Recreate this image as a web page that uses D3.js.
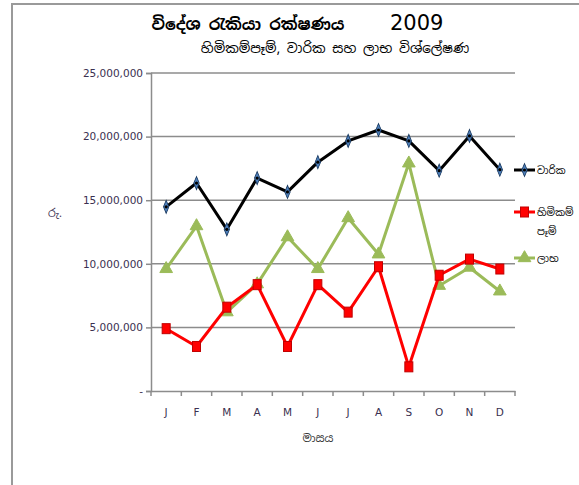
<!DOCTYPE html>
<html>
<head>
<meta charset="utf-8">
<script src="https://cdn.jsdelivr.net/npm/d3@7"></script>
<style>
  body { margin: 0; background: #fff; }
  text { font-family: "Noto Sans Sinhala", "Iskoola Pota", "Noto Sans", "DejaVu Sans", sans-serif; }
</style>
</head>
<body>
<svg id="chart" width="579" height="485"></svg>
<script>
// මාස
var months = ["J", "F", "M", "A", "M", "J", "J", "A", "S", "O", "N", "D"];
var premiums = [14480000, 16350000, 12710000, 16740000, 15650000, 17990000, 19660000, 20520000, 19660000, 17320000, 20050000, 17400000];
var claims = [4900000, 3500000, 6590000, 8360000, 3500000, 8360000, 6200000, 9770000, 1900000, 9100000, 10370000, 9590000];
var profits = [9600000, 12970000, 6200000, 8400000, 12100000, 9600000, 13600000, 10750000, 17900000, 8280000, 9710000, 7840000];
var yTicks = [0, 5000000, 10000000, 15000000, 20000000, 25000000];
var seriesNames = ["වාරික", "හිමිකම් පෑම්", "ලාභ"];

var svg = d3.select("#chart");
var margin = { top: 73, left: 151, right: 64, bottom: 94 };
var width = 579 - margin.left - margin.right,
  height = 485 - margin.top - margin.bottom;

// පසුබිම් රාමුව
svg.append("rect")
  .attr("x", 12).attr("y", 4)
  .attr("width", 580).attr("height", 500)
  .attr("fill", "#fff")
  .attr("stroke", "#9a9a9a")
  .attr("stroke-width", 2);

svg.append("text")
  .attr("x", 248).attr("y", 30)
  .attr("text-anchor", "middle")
  .style("font-size", "16px")
  .style("font-weight", "bold")
  .attr("fill", "#000")
  .text("විදේශ රැකියා රක්ෂණය");

svg.append("text")
  .attr("x", 390).attr("y", 30)
  .style("font-size", "21px")
  .style("font-family", "'DejaVu Sans', sans-serif")
  .attr("fill", "#000")
  .text("2009");

svg.append("text")
  .attr("x", 335).attr("y", 53)
  .attr("text-anchor", "middle")
  .style("font-size", "13.5px")
  .attr("fill", "#000")
  .text("හිමිකම්පෑම්, වාරික සහ ලාභ විශ්ලේෂණ");

var x = d3.scaleBand().domain(d3.range(months.length)).range([0, width]);
var y = d3.scaleLinear().domain([0, 25000000]).range([height, 0]);

var g = svg.append("g")
  .attr("transform", "translate(" + margin.left + "," + margin.top + ")");

// ග්‍රිඩ් රේඛා
g.selectAll(".grid")
  .data(yTicks.slice(1))
  .enter()
  .append("line")
  .attr("x1", 0).attr("x2", width)
  .attr("y1", function (d) { return y(d); })
  .attr("y2", function (d) { return y(d); })
  .attr("stroke", "#8c8c8c")
  .attr("stroke-width", 1.5);

var yAxis = g.append("g")
  .call(d3.axisLeft(y).tickValues(yTicks).tickSize(5).tickPadding(3)
    .tickFormat(function (d) { return d === 0 ? "-" : d3.format(",")(d); }));
yAxis.select(".domain").attr("stroke", "#8c8c8c").attr("stroke-width", 1.5);
yAxis.selectAll(".tick line").attr("stroke", "#8c8c8c").attr("stroke-width", 1.5);
yAxis.selectAll(".tick text")
  .attr("fill", "#3a3050")
  .style("font-family", "'DejaVu Sans', sans-serif")
  .style("font-size", "10.5px");

var xAxis = g.append("g")
  .attr("transform", "translate(0," + height + ")")
  .call(d3.axisBottom(x).tickSize(0).tickPadding(18)
    .tickFormat(function (i) { return months[i]; }));
xAxis.select(".domain").attr("stroke", "#8c8c8c").attr("stroke-width", 1.5);
xAxis.selectAll(".tick text")
  .attr("fill", "#3a3050")
  .style("font-family", "'DejaVu Sans', sans-serif")
  .style("font-size", "10.5px");
// කාණ්ඩ සීමා සලකුණු
xAxis.selectAll(".sep")
  .data(d3.range(months.length + 1))
  .enter()
  .append("line")
  .attr("x1", function (i) { return i * x.bandwidth(); })
  .attr("x2", function (i) { return i * x.bandwidth(); })
  .attr("y1", 0).attr("y2", 5)
  .attr("stroke", "#8c8c8c")
  .attr("stroke-width", 1.5);

svg.append("text")
  .attr("x", 55).attr("y", 217)
  .attr("text-anchor", "middle")
  .style("font-size", "11px")
  .attr("fill", "#3a3050")
  .text("රු.");

svg.append("text")
  .attr("x", 318).attr("y", 442)
  .attr("text-anchor", "middle")
  .style("font-size", "11px")
  .attr("fill", "#333")
  .text("මාසය");

var line = d3.line()
  .x(function (d, i) { return x(i) + x.bandwidth() / 2; })
  .y(function (d) { return y(d); });

var series = [
  { values: premiums, color: "#000", marker: d3.symbolDiamond, mfill: "#4f81bd", mstroke: "#17375e" },
  { values: claims, color: "#ff0000", marker: "square", mfill: "#ff0000", mstroke: "#c00000" },
  { values: profits, color: "#9bbb59", marker: d3.symbolTriangle, mfill: "#9bbb59", mstroke: "#9bbb59" }
];

function drawMarker(sel, s, cx, cy) {
  if (s.marker === "square") {
    sel.append("rect")
      .attr("x", cx - 4).attr("y", cy - 5)
      .attr("width", 8).attr("height", 10)
      .attr("fill", s.mfill)
      .attr("stroke", s.mstroke)
      .attr("stroke-width", 1);
  } else {
    var size = s.marker === d3.symbolDiamond ? 45 : 70;
    sel.append("path")
      .attr("transform", "translate(" + cx + "," + cy + ")" + (s.marker === d3.symbolDiamond ? " scale(0.75,1.05)" : ""))
      .attr("d", d3.symbol().type(s.marker).size(size)())
      .attr("fill", s.mfill)
      .attr("stroke", s.mstroke)
      .attr("stroke-width", 1);
    if (s.marker === d3.symbolDiamond) {
      sel.append("circle").attr("cx", cx).attr("cy", cy).attr("r", 1.6).attr("fill", "#000");
    }
  }
}

// green first, then red, then black on top
[2, 1, 0].forEach(function (k) {
  var s = series[k];
  g.append("path")
    .datum(s.values)
    .attr("fill", "none")
    .attr("stroke", s.color)
    .attr("stroke-width", 3)
    .attr("stroke-linejoin", "round")
    .attr("d", line);
  s.values.forEach(function (v, i) {
    drawMarker(g, s, x(i) + x.bandwidth() / 2, y(v));
  });
});

// ලෙජන්ඩ්
var legendY = [170, 212, 258];
series.forEach(function (s, k) {
  var lg = svg.append("g");
  lg.append("line")
    .attr("x1", 514).attr("x2", 535)
    .attr("y1", legendY[k]).attr("y2", legendY[k])
    .attr("stroke", s.color)
    .attr("stroke-width", 3);
  drawMarker(lg, s, 524.5, legendY[k]);
  var t = lg.append("text")
    .attr("x", 537).attr("y", legendY[k] + 4)
    .style("font-size", "10px")
    .attr("fill", "#000");
  if (k === 1) {
    t.append("tspan").attr("x", 537).text("හිමිකම්");
    t.append("tspan").attr("x", 537).attr("dy", 19).text("පෑම්");
  } else {
    t.text(seriesNames[k]);
  }
});
</script>
</body>
</html>
